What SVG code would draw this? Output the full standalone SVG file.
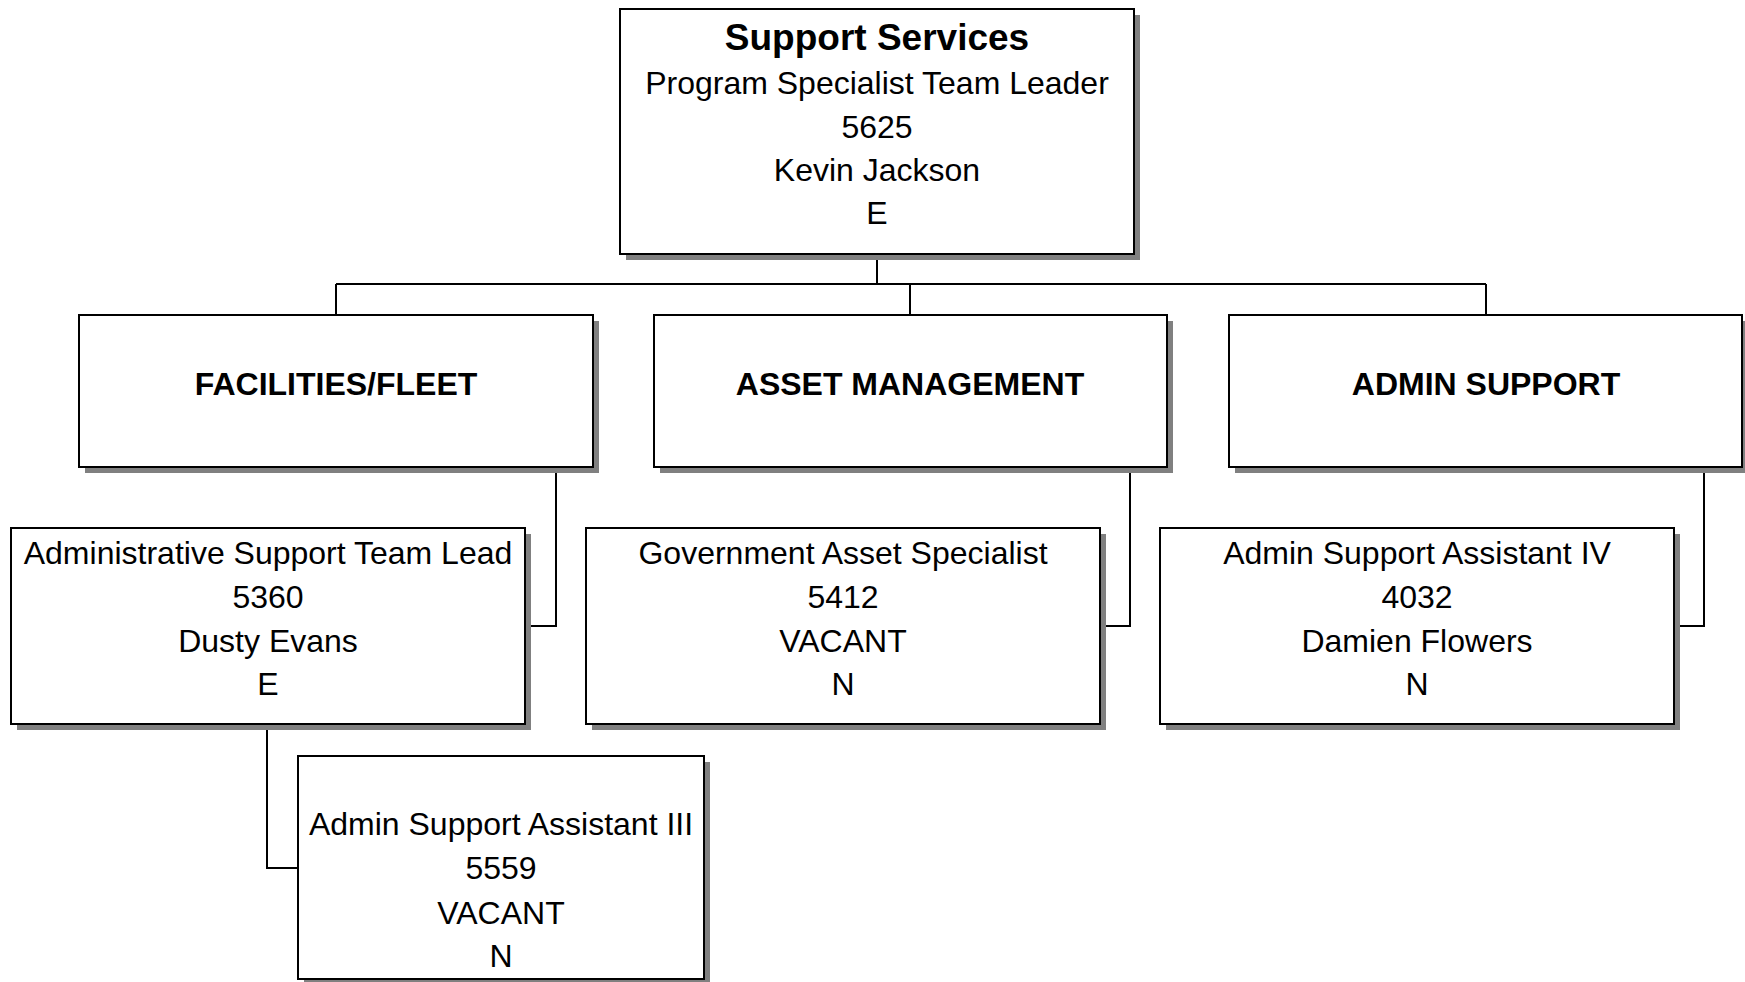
<svg xmlns="http://www.w3.org/2000/svg" width="1745" height="982" viewBox="0 0 1745 982">
<style>
.box{fill:#fff;stroke:#000;stroke-width:2}
.sh{fill:#808080}
.t{font-family:"Liberation Sans",Arial,sans-serif;font-size:32px;fill:#000;text-anchor:middle}
.b{font-weight:bold}
.c{fill:none;stroke:#000;stroke-width:2}
</style>
<rect width="1745" height="982" fill="#fff"/>
<g id="connectors">
<path class="c" d="M877 254V284M336 284H1486M336 284V315M910 284V315M1486 284V315"/>
<path class="c" d="M556 467V626H525"/>
<path class="c" d="M1130 467V626H1100"/>
<path class="c" d="M1704 467V626H1674"/>
<path class="c" d="M267 724V868H298"/>
</g>
<g id="n-support-services">
<rect class="sh" x="626" y="15" width="514" height="245"/>
<rect class="box" x="620" y="9" width="514" height="245"/>
<text class="t b" x="877" y="50" style="font-size:37px">Support Services</text>
<text class="t" x="877" y="94">Program Specialist Team Leader</text>
<text class="t" x="877" y="138">5625</text>
<text class="t" x="877" y="181">Kevin Jackson</text>
<text class="t" x="877" y="224">E</text>
</g>
<g id="n-facilities">
<rect class="sh" x="85" y="321" width="514" height="152"/>
<rect class="box" x="79" y="315" width="514" height="152"/>
<text class="t b" x="336" y="395">FACILITIES/FLEET</text>
</g>
<g id="n-asset">
<rect class="sh" x="660" y="321" width="513" height="152"/>
<rect class="box" x="654" y="315" width="513" height="152"/>
<text class="t b" x="910" y="395">ASSET MANAGEMENT</text>
</g>
<g id="n-admin">
<rect class="sh" x="1235" y="321" width="513" height="152"/>
<rect class="box" x="1229" y="315" width="513" height="152"/>
<text class="t b" x="1486" y="395">ADMIN SUPPORT</text>
</g>
<g id="n-admin-team-lead">
<rect class="sh" x="17" y="534" width="514" height="196"/>
<rect class="box" x="11" y="528" width="514" height="196"/>
<text class="t" x="268" y="564">Administrative Support Team Lead</text>
<text class="t" x="268" y="608">5360</text>
<text class="t" x="268" y="652">Dusty Evans</text>
<text class="t" x="268" y="695">E</text>
</g>
<g id="n-gov-asset">
<rect class="sh" x="592" y="534" width="514" height="196"/>
<rect class="box" x="586" y="528" width="514" height="196"/>
<text class="t" x="843" y="564">Government Asset Specialist</text>
<text class="t" x="843" y="608">5412</text>
<text class="t" x="843" y="652">VACANT</text>
<text class="t" x="843" y="695">N</text>
</g>
<g id="n-admin-iv">
<rect class="sh" x="1166" y="534" width="514" height="196"/>
<rect class="box" x="1160" y="528" width="514" height="196"/>
<text class="t" x="1417" y="564">Admin Support Assistant IV</text>
<text class="t" x="1417" y="608">4032</text>
<text class="t" x="1417" y="652">Damien Flowers</text>
<text class="t" x="1417" y="695">N</text>
</g>
<g id="n-admin-iii">
<rect class="sh" x="304" y="762" width="406" height="223"/>
<rect class="box" x="298" y="756" width="406" height="223"/>
<text class="t" x="501" y="835">Admin Support Assistant III</text>
<text class="t" x="501" y="879">5559</text>
<text class="t" x="501" y="924">VACANT</text>
<text class="t" x="501" y="967">N</text>
</g>
</svg>
